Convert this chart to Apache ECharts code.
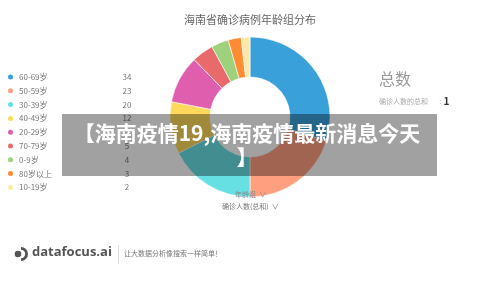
<!DOCTYPE html>
<html>
<head>
<meta charset="utf-8">
<script src="https://cdn.jsdelivr.net/npm/echarts@6/dist/echarts.min.js"></script>
<style>
html,body{margin:0;padding:0;background:#fff;}
#c{width:500px;height:291px;}
</style>
</head>
<body>
<div id="c"></div>
<script>
var categories = ['60-69岁','50-59岁','30-39岁','40-49岁','20-29岁','70-79岁','0-9岁','80岁以上','10-19岁'];
var values = [34, 23, 20, 12, 11, 5, 4, 3, 2];
var colors = ['#3aa0da','#ff9f7f','#67e0e3','#ffd95c','#e05eae','#e96a6a','#9fd07c','#ff8c33','#ffe8a8'];
var titleText = '海南省确诊病例年龄组分布';
var overlayText = '【海南疫情19,海南疫情最新消息今天\n】';

var FONT = '"Noto Sans CJK SC","Noto Sans",sans-serif';
var chart = echarts.init(document.getElementById('c'), null, {renderer:'canvas'});
var valueMap = {};
categories.forEach(function(c,i){ valueMap[c] = values[i]; });

var option = {
  animation: false,
  color: colors,
  title: {
    text: titleText,
    left: 'center',
    top: 9,
    textStyle: {fontSize: 11, fontWeight: 'normal', color: '#666', fontFamily: FONT}
  },
  legend: {
    orient: 'vertical',
    left: 1,
    top: 67.5,
    icon: 'circle',
    itemWidth: 7,
    itemHeight: 7,
    itemGap: 4.8,
    selectedMode: false,
    data: categories,
    formatter: function(name){ return '{n|' + name + '}{v|' + valueMap[name] + '}'; },
    textStyle: {
      fontFamily: FONT, fontSize: 8, color: '#777',
      rich: {
        n: {width: 98, fontSize: 8, color: '#777', fontFamily: FONT},
        v: {width: 20, align: 'center', fontSize: 8, color: '#777', fontFamily: FONT}
      }
    }
  },
  series: [{
    type: 'pie',
    center: [250, 117],
    radius: [40, 80],
    startAngle: 90,
    clockwise: true,
    avoidLabelOverlap: false,
    silent: true,
    label: {show: false},
    labelLine: {show: false},
    itemStyle: {borderColor: '#fff', borderWidth: 0.6},
    data: categories.map(function(c,i){ return {name: c, value: values[i]}; })
  }],
  graphic: [
    {type:'text', left: 379, top: 71, z:10, style:{text:'总数', fontSize:16, fill:'#999', fontFamily: FONT}},
    {type:'text', left: 379, top: 96, z:10, style:{
      text:'{a|确诊人数的总和 }{c| :}{b|1}',
      rich:{
        a:{fontSize:7, fill:'#aaa', fontFamily: FONT},
        c:{fontSize:8, fill:'#aaa', fontFamily: FONT, padding:[0,2,0,8]},
        b:{fontSize:10, fill:'#333', fontWeight:'bold', fontFamily: FONT}
      }
    }},
    {type:'text', left: 235, top: 191, z:10, style:{text:'年龄组  ∨', fontSize:7, fill:'#888', fontFamily: FONT}},
    {type:'text', left: 222, top: 203, z:10, style:{text:'确诊人数(总和)  ∨', fontSize:7, fill:'#777', fontFamily: FONT}},
    // footer logo
    {type:'ring', shape:{cx:21, cy:254, r:7, r0:4.2}, style:{fill:'#555'}, z:1},
    {type:'rect', shape:{x:12, y:245, width:9, height:18}, style:{fill:'#fff'}, z:2},
    {type:'circle', shape:{cx:18, cy:254, r:3.3}, style:{fill:'#555'}, z:3},
    {type:'text', left: 32, top: 246, style:{text:'datafocus.ai', fontSize:13, fontWeight:'bold', fill:'#555', fontFamily:'"Open Sans","Noto Sans",sans-serif'}},
    {type:'line', shape:{x1:118.5, y1:245, x2:118.5, y2:264}, style:{stroke:'#ddd', lineWidth:1}},
    {type:'text', left: 124, top: 250, style:{text:'让大数据分析像搜索一样简单！', fontSize:7, fill:'#777', fontFamily: FONT}},
    // overlay band
    {type:'rect', shape:{x:62, y:114, width:375, height:62}, style:{fill:'rgba(0,0,0,0.37)'}, z:100},
    {type:'text', x: 247, y: 121, z:101, style:{
      text: overlayText, fontSize: 21, lineHeight: 24, fontWeight:'bold', fill:'#fff',
      align:'center', verticalAlign:'top', fontFamily: FONT
    }}
  ]
};
chart.setOption(option);
</script>
</body>
</html>
